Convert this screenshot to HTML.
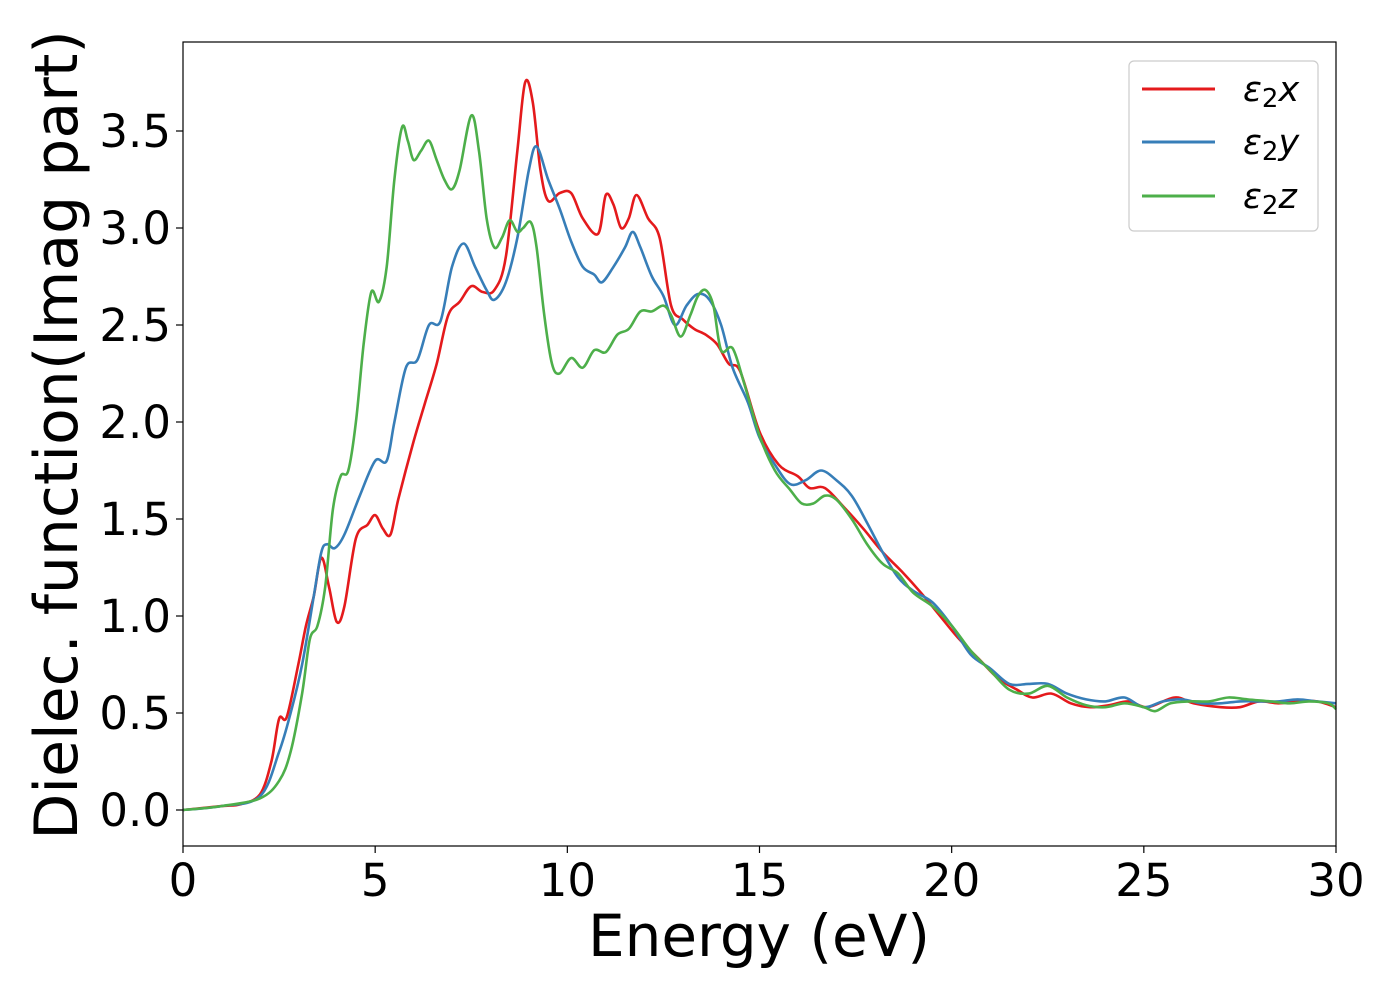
<!DOCTYPE html>
<html><head><meta charset="utf-8"><style>
html,body{margin:0;padding:0;background:#fff;}
svg{display:block;font-family:"DejaVu Sans","Liberation Sans",sans-serif;}
</style></head><body>
<svg id="chart" width="1400" height="1000" xmlns="http://www.w3.org/2000/svg">
<rect x="0" y="0" width="1400" height="1000" fill="#fff"/>
<g id="plot"></g>
<rect x="183" y="42" width="1153" height="804" fill="none" stroke="#000" stroke-width="1.2"/>
<g id="xticks"></g>
<g id="yticks"></g>
<text x="759" y="956" font-size="58" text-anchor="middle">Energy (eV)</text>
<text transform="translate(77,435) rotate(-90)" font-size="60" text-anchor="middle">Dielec. function(Imag part)</text>
<g>
<rect x="1129" y="61" width="189" height="170" rx="5" fill="#fff" fill-opacity="0.8" stroke="#ccc" stroke-width="1.2"/>
<g><line x1="1142" y1="89" x2="1215" y2="89" stroke="#e41a1c" stroke-width="3"/><text x="1243" y="101" font-size="35" font-style="italic">ε<tspan font-style="normal" font-size="26" dy="6">2</tspan><tspan dy="-6">x</tspan></text></g>
<g><line x1="1142" y1="142" x2="1215" y2="142" stroke="#377eb8" stroke-width="3"/><text x="1243" y="154" font-size="35" font-style="italic">ε<tspan font-style="normal" font-size="26" dy="6">2</tspan><tspan dy="-6">y</tspan></text></g>
<g><line x1="1142" y1="196" x2="1215" y2="196" stroke="#4daf4a" stroke-width="3"/><text x="1243" y="208" font-size="35" font-style="italic">ε<tspan font-style="normal" font-size="26" dy="6">2</tspan><tspan dy="-6">z</tspan></text></g>
</g>
</svg>
<script>
const xTicks=[0,5,10,15,20,25,30];
const yTicks=[0.0,0.5,1.0,1.5,2.0,2.5,3.0,3.5];
const redE=[0,1,1.5,2,2.3,2.5,2.7,3,3.2,3.4,3.6,3.8,4.0,4.2,4.5,4.8,5.0,5.2,5.4,5.6,6,6.3,6.6,6.9,7.2,7.5,7.8,8.1,8.4,8.7,8.9,9.1,9.3,9.5,9.8,10.1,10.4,10.8,11.0,11.2,11.4,11.6,11.8,12.1,12.4,12.7,13.0,13.3,13.6,13.9,14.2,14.5,15,15.5,16,16.3,16.7,17.2,17.7,18.2,18.7,19.2,19.7,20.2,20.7,21.2,21.7,22.1,22.6,23.1,23.6,24.1,24.6,25.1,25.8,26.3,27,27.5,28,28.5,29,29.5,30];
const redV=[0,0.02,0.03,0.08,0.25,0.47,0.48,0.75,0.95,1.1,1.3,1.15,0.97,1.05,1.4,1.47,1.52,1.45,1.42,1.6,1.9,2.1,2.3,2.55,2.62,2.7,2.67,2.68,2.85,3.4,3.75,3.65,3.3,3.14,3.18,3.18,3.05,2.97,3.17,3.12,3.0,3.05,3.17,3.05,2.95,2.6,2.53,2.48,2.45,2.4,2.3,2.26,1.95,1.78,1.72,1.66,1.66,1.56,1.45,1.33,1.23,1.12,1.0,0.88,0.78,0.68,0.62,0.58,0.6,0.55,0.53,0.54,0.56,0.53,0.58,0.55,0.53,0.53,0.56,0.55,0.56,0.56,0.53];
const blueE=[0,1,2,2.5,2.8,3.1,3.4,3.6,3.75,3.95,4.2,4.6,5.0,5.3,5.5,5.8,6.1,6.4,6.7,7.0,7.3,7.6,7.9,8.1,8.4,8.7,9.0,9.2,9.5,9.8,10.1,10.4,10.7,10.9,11.2,11.5,11.7,11.9,12.2,12.5,12.8,13.1,13.4,13.7,14.0,14.3,14.7,15,15.4,15.8,16.2,16.6,17,17.4,17.8,18.2,18.6,19,19.5,20,20.5,21,21.5,22,22.5,23,23.5,24,24.5,25,25.5,26,26.5,27,27.5,28,28.5,29,29.5,30];
const blueV=[0,0.02,0.07,0.3,0.5,0.75,1.1,1.33,1.37,1.35,1.42,1.62,1.8,1.8,2.0,2.28,2.32,2.5,2.52,2.8,2.92,2.8,2.68,2.63,2.72,2.95,3.3,3.42,3.25,3.1,2.93,2.8,2.76,2.72,2.8,2.9,2.98,2.9,2.75,2.65,2.5,2.6,2.66,2.63,2.5,2.28,2.1,1.92,1.78,1.68,1.7,1.75,1.7,1.62,1.48,1.33,1.2,1.13,1.07,0.95,0.8,0.73,0.65,0.65,0.65,0.6,0.57,0.56,0.58,0.53,0.56,0.57,0.55,0.55,0.56,0.56,0.56,0.57,0.56,0.55];
const greenE=[0,1,2,2.5,2.8,3.1,3.3,3.5,3.7,3.9,4.1,4.3,4.5,4.7,4.9,5.1,5.3,5.5,5.7,5.85,6.0,6.2,6.4,6.6,6.8,7.0,7.2,7.5,7.7,7.9,8.1,8.3,8.5,8.7,8.85,9.05,9.2,9.4,9.6,9.8,10.1,10.4,10.7,11.0,11.3,11.6,11.9,12.2,12.5,12.7,12.95,13.2,13.4,13.6,13.8,14.0,14.3,14.6,15,15.4,15.8,16.1,16.4,16.7,17.0,17.4,17.8,18.2,18.6,19,19.5,20,20.5,21,21.5,22,22.5,23,23.5,24,24.5,25,25.3,25.7,26.2,26.7,27.2,27.7,28.3,28.8,29.3,29.8,30];
const greenV=[0,0.02,0.06,0.15,0.3,0.6,0.88,0.95,1.15,1.55,1.72,1.75,2.0,2.4,2.67,2.62,2.8,3.25,3.52,3.45,3.35,3.4,3.45,3.35,3.25,3.2,3.3,3.58,3.4,3.05,2.9,2.95,3.04,2.98,3.0,3.03,2.9,2.55,2.3,2.25,2.33,2.28,2.37,2.36,2.45,2.48,2.57,2.57,2.6,2.55,2.44,2.55,2.65,2.68,2.6,2.37,2.38,2.2,1.93,1.75,1.65,1.58,1.58,1.62,1.6,1.5,1.37,1.27,1.22,1.12,1.05,0.95,0.82,0.72,0.62,0.6,0.64,0.58,0.54,0.53,0.55,0.53,0.51,0.55,0.56,0.56,0.58,0.57,0.56,0.55,0.56,0.55,0.52];

const X0=183,X1=1336,Y0=810,YU=194;
function sx(v){return X0+(v-0)/30*(X1-X0);}
function sy(v){return Y0-v*YU;}
const NS='http://www.w3.org/2000/svg';
function mk(tag,attrs,parent){const e=document.createElementNS(NS,tag);for(const k in attrs)e.setAttribute(k,attrs[k]);parent.appendChild(e);return e;}
const xg=document.getElementById('xticks'),yg=document.getElementById('yticks'),plot=document.getElementById('plot');
xTicks.forEach(t=>{
  const l=mk('line',{x1:sx(t),x2:sx(t),y1:846,y2:853,stroke:'#000','stroke-width':1.2},xg);
  
  
  const tx=mk('text',{x:sx(t),y:896,'font-size':45,'text-anchor':'middle'},xg);
  tx.textContent=String(t);
  
  
});
yTicks.forEach(t=>{
  const l=mk('line',{x1:176,x2:183,y1:sy(t),y2:sy(t),stroke:'#000','stroke-width':1.2},yg);
  
  
  const tx=mk('text',{x:171,y:sy(t)+16,'font-size':45,'text-anchor':'end'},yg);
  tx.textContent=t.toFixed(1);
  
  
});
function pathFor(E,V){
  const p=E.map((e,i)=>[sx(e),sy(V[i])]);
  let d='M'+p[0][0].toFixed(1)+','+p[0][1].toFixed(1);
  for(let i=0;i<p.length-1;i++){
    const a=p[i-1]||p[i],b=p[i],c=p[i+1],n=p[i+2]||c;
    const c1=[b[0]+(c[0]-a[0])/6,b[1]+(c[1]-a[1])/6],c2=[c[0]-(n[0]-b[0])/6,c[1]-(n[1]-b[1])/6];
    d+=` C${c1[0].toFixed(1)},${c1[1].toFixed(1)} ${c2[0].toFixed(1)},${c2[1].toFixed(1)} ${c[0].toFixed(1)},${c[1].toFixed(1)}`;
  }
  return d;
}
[[redE,redV,'#e41a1c','line-eps2x'],[blueE,blueV,'#377eb8','line-eps2y'],[greenE,greenV,'#4daf4a','line-eps2z']].forEach(s=>{
  const p=mk('path',{d:pathFor(s[0],s[1]),fill:'none',stroke:s[2],'stroke-width':2.6,'stroke-linejoin':'round'},plot);
  
  
});
</script>
</body></html>
